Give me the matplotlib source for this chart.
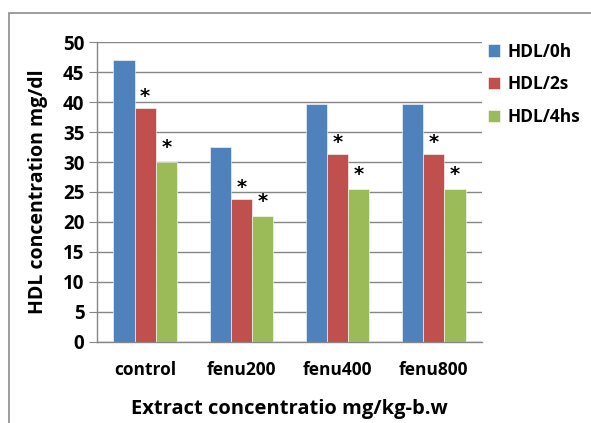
import numpy as np
import matplotlib
matplotlib.use("Agg")
import matplotlib.pyplot as plt
from matplotlib.patches import Rectangle

# data
groups = ["control", "fenu200", "fenu400", "fenu800"]
series = ["HDL/0h", "HDL/2s", "HDL/4hs"]
hdl_0h = [47.0, 32.5, 39.7, 39.7]
hdl_2s = [39.0, 23.8, 31.4, 31.4]
hdl_4hs = [30.0, 21.0, 25.5, 25.5]
# which bars carry a significance star
star_2s = [True, True, True, True]
star_4hs = [True, True, True, True]

colors = ["#4F81BD", "#C0504D", "#9BBB59"]
plt.rcParams['font.family'] = ['Open Sans', 'DejaVu Sans']
plt.rcParams['font.weight'] = 'bold'

fig = plt.figure(figsize=(5.91, 4.23), dpi=100)
ax = fig.add_axes([0.1641, 0.1915, 0.6514, 0.7092])

x = np.arange(len(groups))
w = 0.22
vals = [hdl_0h, hdl_2s, hdl_4hs]
for i, (name, v) in enumerate(zip(series, vals)):
    ax.bar(x + (i - 1) * w, v, width=w, color=colors[i], label=name,
           edgecolor="white", linewidth=0.4, zorder=3)

# stars above the treated bars
for i, v in enumerate(hdl_2s):
    if star_2s[i]:
        ax.text(x[i], v + 0.3, "*", ha="center", va="bottom",
                fontsize=14, fontweight="bold", family="DejaVu Sans")
for i, v in enumerate(hdl_4hs):
    if star_4hs[i]:
        ax.text(x[i] + w, v + 0.8, "*", ha="center", va="bottom",
                fontsize=14, fontweight="bold", family="DejaVu Sans")

ax.set_xlim(-0.5, len(groups) - 0.5)
ax.set_ylim(0, 50)
ax.set_yticks(np.arange(0, 51, 5))
ax.set_xticks(x)
ax.set_xticklabels(groups, fontsize=12.5, fontweight="bold")
ax.tick_params(axis="y", labelsize=13.5, length=6, color="#868686", pad=3)
ax.tick_params(axis="x", length=0, pad=14)
ax.grid(axis="y", color="#868686", linewidth=1.0, zorder=0)
for s in ["top", "right"]:
    ax.spines[s].set_visible(False)
for s in ["left", "bottom"]:
    ax.spines[s].set_color("#868686")
    ax.spines[s].set_linewidth(1.0)

ax.set_ylabel("HDL concentration mg/dl", fontsize=14, fontweight="bold", labelpad=11)
ax.set_xlabel("Extract concentratio mg/kg-b.w", fontsize=14.5, fontweight="bold", labelpad=14)

ax.legend(loc="upper left", bbox_to_anchor=(0.975, 1.05), frameon=False,
          handlelength=0.7, handleheight=0.7, handletextpad=0.4,
          labelspacing=0.85, prop={"weight": "bold", "size": 12.5})

# outer chart border (cropped at right and bottom)
fig.add_artist(Rectangle((9 / 591, -0.1), 2.0, 1.1 - 13 / 423, transform=fig.transFigure,
                         fill=False, edgecolor="#8c8c8c", linewidth=1.2))

fig.savefig("out.png", dpi=100)
